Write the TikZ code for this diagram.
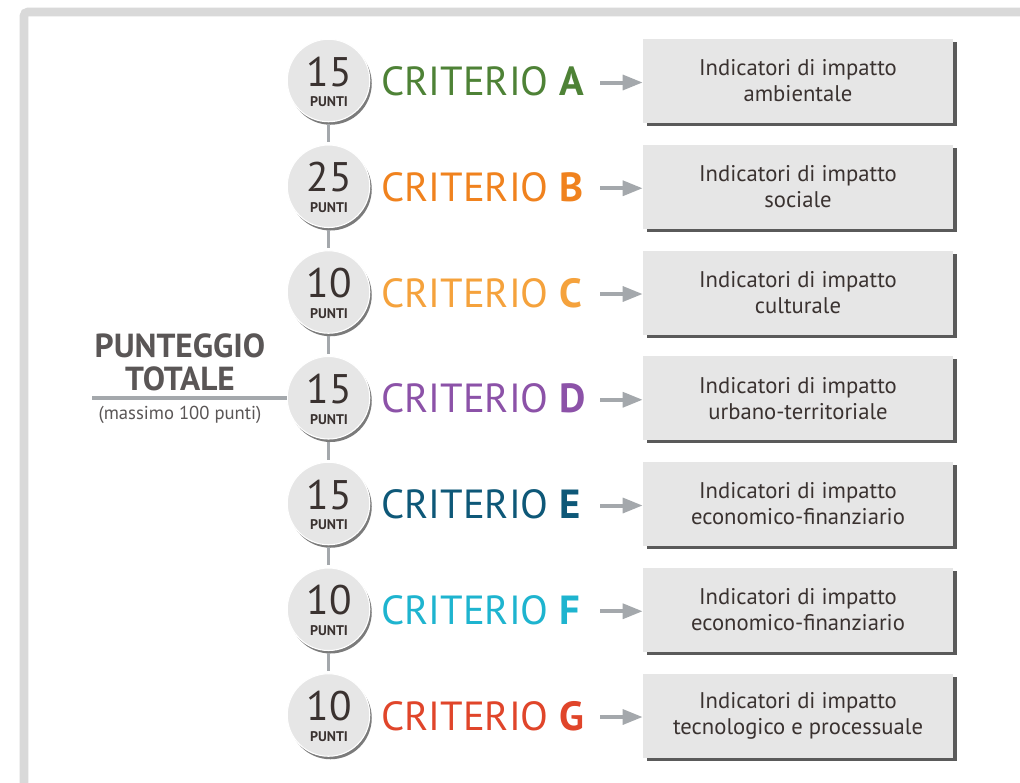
\documentclass[tikz,border=0pt]{standalone}
\usepackage{fontspec}
\setmainfont{PT Sans}
\usetikzlibrary{arrows.meta}
\definecolor{frame}{HTML}{D9D9D9}
\definecolor{conn}{HTML}{A4A8AC}
\definecolor{boxfill}{HTML}{E6E6E6}
\definecolor{shadowc}{HTML}{5A5A5A}
\definecolor{txt}{HTML}{3A3230}
\definecolor{totc}{HTML}{5A5656}
\definecolor{cA}{HTML}{4E8236}
\definecolor{cB}{HTML}{F0821E}
\definecolor{cC}{HTML}{F5A23C}
\definecolor{cD}{HTML}{8C52A8}
\definecolor{cE}{HTML}{0E5878}
\definecolor{cF}{HTML}{1EB4CF}
\definecolor{cG}{HTML}{E0452A}
\tikzset{
  pts/.style={circle, minimum size=82.5pt*0.75, inner sep=0pt, fill=boxfill, draw=white, line width=0.8pt},
  ptshadow/.style={circle, minimum size=82.5pt*0.75, inner sep=0pt, fill=shadowc!80},
  crit/.style={anchor=west, inner sep=0pt, font=\fontsize{30.5}{32}\selectfont},
  ibox/.style={minimum width=310*0.75pt, minimum height=84*0.75pt, inner sep=0pt, fill=boxfill, align=center, text=txt, font=\fontsize{17}{19.5}\selectfont},
  iboxshadow/.style={minimum width=310*0.75pt, minimum height=84*0.75pt, inner sep=0pt, fill=shadowc},
  vline/.style={draw=conn, line width=2.2pt},
  arr/.style={draw=conn, line width=3pt, -{Triangle[length=15pt, width=11pt]}},
}
\begin{document}
\begin{tikzpicture}[x=0.75pt,y=-0.75pt]
\useasboundingbox (0,0) rectangle (1020,782);
\clip (0,0) rectangle (1020,782);
\fill[white] (0,0) rectangle (1020,782);
\draw[frame, line width=6.5pt, rounded corners=3pt] (24,12) rectangle (1060,830);

% totale
\node[font=\bfseries\fontsize{25}{25}\selectfont, text=totc, align=center, inner sep=0pt] (tot) at (180,362) {PUNTEGGIO\\TOTALE};
\node[font=\fontsize{14}{15}\selectfont, text=totc, inner sep=0pt] (max) at (180,415) {(massimo 100 punti)};
\coordinate (tl) at (92,398);

\foreach \n/\k/\pt/\col/\la/\lb in {
  A/0/15/cA/Indicatori di impatto/ambientale,
  B/1/25/cB/Indicatori di impatto/sociale,
  C/2/10/cC/Indicatori di impatto/culturale,
  D/3/15/cD/Indicatori di impatto/urbano-territoriale,
  E/4/15/cE/Indicatori di impatto/economico-finanziario,
  F/5/10/cF/Indicatori di impatto/economico-finanziario,
  G/6/10/cG/Indicatori di impatto/tecnologico e processuale}{
  \pgfmathsetmacro{\yy}{80.5+105.75*\k}
  \node[ptshadow] at (330.5,\yy+3) {};
  \node[pts] (p\n) at (328.5,\yy) {};
  \node[inner sep=0pt, text depth=0pt, font=\fontsize{31}{31}\selectfont, text=txt] (num\n) at (329,\yy-9) {\pt};
  \node[inner sep=0pt, text height=7.5pt, font=\bfseries\fontsize{10.5}{11}\selectfont, text=txt] (pu\n) at (329,\yy+21.5) {PUNTI};
  \node[crit, text=\col] (c\n) at (381,\yy+1) {CRITERIO \textbf{\n}};
  \node[iboxshadow] at (801.5,\yy+3.5) {};
  \node[ibox] (b\n) at (798,\yy+0.5) {\la\\\lb};
  \coordinate (s\n) at (600,\yy+2);
  \draw[arr] (s\n) -- (b\n.west |- s\n);
}
\foreach \a/\b in {A/B,B/C,C/D,D/E,E/F,F/G}{
  \draw[vline] ([yshift=-1.5pt]p\a.south) -- ([yshift=1.5pt]p\b.north);
}
\draw[vline, line width=2.5pt] (tl) -- (pD.west |- tl);
\end{tikzpicture}
\end{document}
